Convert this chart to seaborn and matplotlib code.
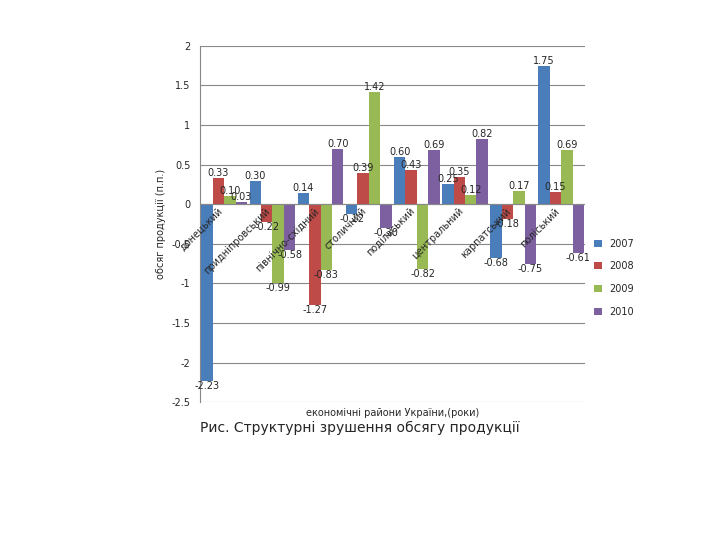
import numpy as np
import pandas as pd
import matplotlib
matplotlib.use('Agg')
import matplotlib.pyplot as plt
import seaborn as sns

regions = ['Донецький', 'Придніпровський', 'Північно-Східний', 'Столичний',
           'Подільський', 'Центральний', 'Карпатський', 'Поліський']
years = ['2007', '2008', '2009', '2010']
v2007 = [-2.23, 0.30, 0.14, -0.12, 0.60, 0.25, -0.68, 1.75]
v2008 = [0.33, -0.22, -1.27, 0.39, 0.43, 0.35, -0.18, 0.15]
v2009 = [0.10, -0.99, -0.83, 1.42, -0.82, 0.12, 0.17, 0.69]
v2010 = [0.03, -0.58, 0.70, -0.30, 0.69, 0.82, -0.75, -0.61]
colors = ['#4a7ebb', '#be4b48', '#98b954', '#7d60a0']

df = pd.DataFrame({'region': regions * 4,
                   'year': sum([[y] * 8 for y in years], []),
                   'value': v2007 + v2008 + v2009 + v2010})

sns.set_style('white')
plt.rcParams['font.family'] = ['DejaVu Sans']
fig = plt.figure(figsize=(7.2, 5.4), dpi=100)
ax = fig.add_axes([0.278, 0.255, 0.535, 0.66])
sns.barplot(data=df, x='region', y='value', hue='year', palette=colors,
            width=0.95, ax=ax, saturation=1, legend=True, linewidth=0)
for c in ax.containers:
    ax.bar_label(c, fmt='%.2f', fontsize=7)
ax.set_ylim(-2.5, 2)
ax.set_yticks(np.arange(-2.5, 2.01, 0.5))
ax.set_yticklabels(['-2.5', '-2', '-1.5', '-1', '-0.5', '0', '0.5', '1', '1.5', '2'], fontsize=7)
ax.yaxis.grid(True, color='#888888', lw=0.8)
ax.set_axisbelow(True)
ax.set_xticks([])
for i, r in enumerate(regions):
    ax.text(i, -0.02, r.lower(), rotation=45, ha='right', va='top', fontsize=7)
ax.axhline(0, color='#888888', lw=0.8)
for s in ['top', 'right']:
    ax.spines[s].set_visible(False)
ax.spines['left'].set_color('#888888')
ax.spines['bottom'].set_visible(False)
ax.set_xlabel('економічні райони України,(роки)', fontsize=7)
ax.set_ylabel('обсяг продукції (п.п.)', fontsize=7)
ax.legend(loc='center left', bbox_to_anchor=(1.0, 0.35), frameon=False,
          fontsize=7, labelspacing=1.3, handlelength=0.8)
fig.text(0.5, 0.2, 'Рис. Структурні зрушення обсягу продукції', ha='center', fontsize=10)
fig.savefig('out.png', dpi=100)
